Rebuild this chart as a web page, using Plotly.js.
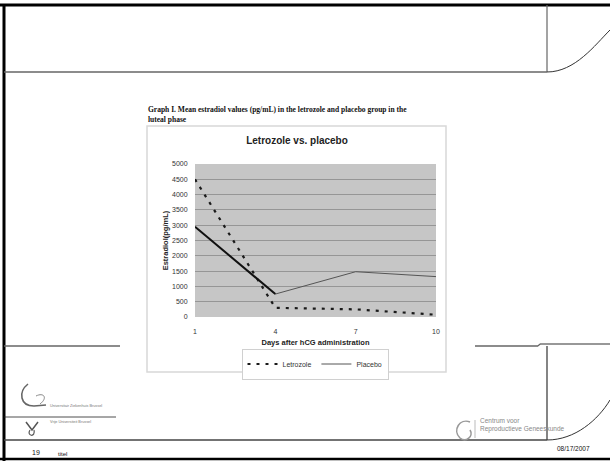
<!DOCTYPE html>
<html>
<head>
<meta charset="utf-8">
<script src="https://cdn.plot.ly/plotly-3.0.1.min.js"></script>
<style>
html,body{margin:0;padding:0;background:#fff;}
#chart{width:610px;height:461px;}
</style>
</head>
<body>
<div id="chart"></div>
<script>
// ---- data ----
var days = [1, 4, 7, 10];
var letrozole = [4500, 300, 250, 75];
var placebo = [2950, 750, 1480, 1320];
var xTickLabels = ['1', '4', '7', '10'];
var yTicks = [0, 500, 1000, 1500, 2000, 2500, 3000, 3500, 4000, 4500, 5000];

// ---- geometry helpers (plot area px) ----
var L = 195, R = 436, T = 164, B = 317;
var W = 610, H = 461;
function px(x){ return (x - L) / (R - L); }
function py(y){ return (B - y) / (B - T); }
function line(x0,y0,x1,y1,color,width){
  return {type:'line', xref:'paper', yref:'paper', x0:px(x0), y0:py(y0), x1:px(x1), y1:py(y1),
          line:{color:color, width:width}, layer:'above'};
}
function P(x,y){ return px(x).toFixed(5)+','+py(y).toFixed(5); }
function path(d,color,width,fill){
  return {type:'path', xref:'paper', yref:'paper', path:d, line:{color:color,width:width},
          fillcolor: fill || 'rgba(0,0,0,0)', layer:'above'};
}
function txt(x,y,text,size,color,opts){
  var a = {xref:'paper', yref:'paper', x:px(x), y:py(y), text:text, showarrow:false,
           font:{family:'Liberation Sans, Arial, sans-serif', size:size, color:color},
           xanchor:'left', yanchor:'middle'};
  if (opts) for (var k in opts) a[k] = opts[k];
  return a;
}
var serif = {family:'Liberation Serif, Times New Roman, serif', size:7.5, color:'#111'};

var traces = [
  {x: days, y: letrozole, name: 'Letrozole', mode: 'lines', type: 'scatter',
   line: {color: '#1a1a1a', width: 2.2, dash: '3px,6px'}},
  {x: days, y: placebo, name: 'Placebo', mode: 'lines', type: 'scatter',
   line: {color: '#555555', width: 1}},
  {x: days.slice(0, 2), y: placebo.slice(0, 2), name: 'Placebo', mode: 'lines', type: 'scatter',
   showlegend: false, line: {color: '#111111', width: 2}}
];

var shapes = [
  // chart frame
  {type:'rect', xref:'paper', yref:'paper', x0:px(147), y0:py(126), x1:px(446), y1:py(372),
   line:{color:'#d8d8d8', width:1.5}, layer:'below'},
  // slide decorations
  line(0,5,610,5,'#000',3),
  line(4,4,4,461,'#000',3),
  line(4,72,547,72,'#666',1.5),
  line(547,5,547,72,'#666',1.2),
  path('M'+P(547,72)+' C'+P(575,72)+' '+P(595,45)+' '+P(610,30),'#333',1),
  line(4,346,120,346,'#666',1.5),
  line(475,346,538,346,'#666',1.5),
  line(538,346,540,344,'#666',1.2),
  line(540,344,610,344,'#333',1.2),
  line(547,346,547,440,'#333',1.2),
  path('M'+P(547,440)+' C'+P(575,440)+' '+P(598,420)+' '+P(610,400),'#333',1),
  line(4,440,547,440,'#444',1.3),
  line(4,417,116,417,'#222',0.8),
  line(0,459,610,459,'#000',2.5),
  // UZ logo
  path('M'+P(28,384)+' C'+P(18,392)+' '+P(20,406)+' '+P(34,406)+' L'+P(46,405),'#666',1.6),
  path('M'+P(36,396)+' C'+P(44,392)+' '+P(48,398)+' '+P(40,404),'#888',1),
  // VUB logo
  path('M'+P(26,422)+' L'+P(32,430)+' L'+P(38,422),'#555',1.5),
  path('M'+P(30,430)+' C'+P(26,436)+' '+P(36,438)+' '+P(34,430),'#555',1.2),
  // CRG logo
  path('M'+P(470,422)+' C'+P(460,418)+' '+P(452,430)+' '+P(460,438)+' C'+P(466,443)+' '+P(474,436)+' '+P(470,430),'#999',1.6),
  line(475,420,475,438,'#aaa',0.8)
];

var annotations = [
  txt(146,110,'<b>Graph I. Mean estradiol values (pg/mL) in the letrozole and placebo group in the</b>',7.5,'#111',{font:serif}),
  txt(146,119,'<b>luteal phase</b>',7.5,'#111',{font:serif}),
  txt(48,406,'Universitair Ziekenhuis Brussel',3.8,'#777'),
  txt(48,422,'Vrije Universiteit Brussel',3.8,'#777'),
  txt(478,420,'Centrum voor',6.5,'#888'),
  txt(478,429,'Reproductieve Geneeskunde',6.5,'#888'),
  txt(30,452,'19',7,'#111'),
  txt(56,454,'titel',6,'#111'),
  txt(592,448,'08/17/2007',6.5,'#111',{xanchor:'right'})
];

var layout = {
  width: W, height: H,
  margin: {l: L, r: W - R, t: T, b: H - B, pad: 0},
  paper_bgcolor: 'rgba(0,0,0,0)',
  plot_bgcolor: '#c6c6c6',
  showlegend: true,
  title: {text: '<b>Letrozole vs. placebo</b>', x: px(297), xanchor: 'center', xref: 'paper',
          y: 1 - 140 / H, yanchor: 'middle',
          font: {family: 'Liberation Sans, Arial, sans-serif', size: 10, color: '#222'}},
  xaxis: {
    range: [1, 10], tickmode: 'array', tickvals: days, ticktext: xTickLabels,
    showgrid: false, zeroline: false, showline: false,
    ticks: 'outside', ticklen: 8, tickcolor: 'rgba(0,0,0,0)',
    tickfont: {family: 'Liberation Sans, Arial, sans-serif', size: 7, color: '#333'},
    title: {text: '<b>Days after hCG administration</b>', standoff: 5,
            font: {family: 'Liberation Sans, Arial, sans-serif', size: 7.5, color: '#222'}},
    automargin: false
  },
  yaxis: {
    range: [0, 5000], tickmode: 'array', tickvals: yTicks,
    showgrid: true, gridcolor: '#8a8a8a', gridwidth: 0.8, zeroline: false,
    showline: false, ticks: 'outside', ticklen: 5, tickcolor: 'rgba(0,0,0,0)',
    tickfont: {family: 'Liberation Sans, Arial, sans-serif', size: 7, color: '#333'},
    title: {text: '<b>Estradiol(pg/mL)</b>', standoff: 2,
            font: {family: 'Liberation Sans, Arial, sans-serif', size: 7.5, color: '#222'}},
    automargin: false
  },
  legend: {
    orientation: 'h', x: px(315), xanchor: 'center', y: py(364), yanchor: 'middle',
    bordercolor: '#d0d0d0', borderwidth: 1, bgcolor: '#fff',
    font: {family: 'Liberation Sans, Arial, sans-serif', size: 7, color: '#333'},
    tracegroupgap: 0
  },
  shapes: shapes,
  annotations: annotations
};

Plotly.newPlot('chart', traces, layout, {displayModeBar: false, staticPlot: true});
</script>
</body>
</html>
